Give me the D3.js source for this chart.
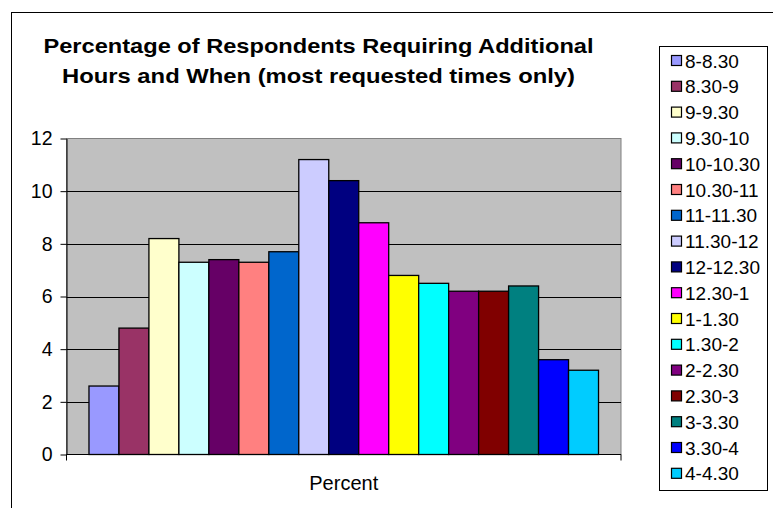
<!DOCTYPE html>
<html>
<head>
<meta charset="utf-8">
<script src="https://cdn.jsdelivr.net/npm/d3@7"></script>
<style>
  html, body { margin: 0; padding: 0; background: #fff; }
  svg { display: block; font-family: "Liberation Sans", Arial, sans-serif; }
</style>
</head>
<body>
<svg id="chart" width="773" height="508"></svg>
<script>
// Time slots (series) and the share of respondents asking for each
const slots = ["8-8.30", "8.30-9", "9-9.30", "9.30-10", "10-10.30", "10.30-11",
  "11-11.30", "11.30-12", "12-12.30", "12.30-1", "1-1.30", "1.30-2",
  "2-2.30", "2.30-3", "3-3.30", "3.30-4", "4-4.30"];
const percents = [2.6, 4.8, 8.2, 7.3, 7.4, 7.3, 7.7, 11.2, 10.4, 8.8, 6.8, 6.5,
  6.2, 6.2, 6.4, 3.6, 3.2];
const slotColors = ["#9999FF", "#993366", "#FFFFCC", "#CCFFFF", "#660066", "#FF8080",
  "#0066CC", "#CCCCFF", "#000080", "#FF00FF", "#FFFF00", "#00FFFF",
  "#800080", "#800000", "#008080", "#0000FF", "#00CCFF"];
const categories = ["Percent"];
const yTicks = [0, 2, 4, 6, 8, 10, 12];
const titleLines = ["Percentage of Respondents Requiring Additional",
  "Hours and When (most requested times only)"];
const titleWidths = [550, 513];

const svg = d3.select("#chart");

// outer chart frame
svg.append("rect")
  .attr("x", 11.5).attr("y", 12.5)
  .attr("width", 900).attr("height", 600)
  .attr("fill", "#fff").attr("stroke", "#000").attr("stroke-width", 1);

const plot = { left: 66.5, right: 621, top: 138.5, bottom: 454.5 };

const y = d3.scaleLinear().domain([0, 12]).range([plot.bottom, plot.top]);
const xCat = d3.scaleBand().domain(categories).range([plot.left, plot.right]);
const xSlot = d3.scaleBand().domain(slots)
  .range([0, xCat.bandwidth()]).paddingInner(0).paddingOuter(0.75);

// plot area
svg.append("rect")
  .attr("x", plot.left).attr("y", plot.top)
  .attr("width", plot.right - plot.left).attr("height", plot.bottom - plot.top)
  .attr("fill", "#C0C0C0").attr("stroke", "#808080").attr("stroke-width", 1);

// gridlines
svg.append("g").selectAll("line")
  .data(yTicks.filter(t => t > 0 && t < 12))
  .join("line")
  .attr("x1", plot.left).attr("x2", plot.right)
  .attr("y1", d => Math.round(y(d)) + 0.5).attr("y2", d => Math.round(y(d)) + 0.5)
  .attr("stroke", "#000").attr("stroke-width", 1);

// bars
svg.append("g").selectAll("rect")
  .data(slots.map((s, i) => ({ slot: s, value: percents[i], color: slotColors[i] })))
  .join("rect")
  .attr("x", d => xCat("Percent") + xSlot(d.slot))
  .attr("y", d => y(d.value))
  .attr("width", xSlot.bandwidth())
  .attr("height", d => y(0) - y(d.value))
  .attr("fill", d => d.color)
  .attr("stroke", "#000").attr("stroke-width", 1.3);

// y axis
const yAxis = svg.append("g")
  .attr("transform", `translate(${plot.left},0)`)
  .call(d3.axisLeft(y).tickValues(yTicks).tickSize(6).tickPadding(8).tickSizeOuter(0));
yAxis.select(".domain").attr("stroke", "#000");
yAxis.selectAll(".tick line").attr("stroke", "#000");
yAxis.selectAll("text").attr("font-size", 19.5).attr("fill", "#000")
  .attr("font-family", "'Liberation Sans', Arial, sans-serif");

// x axis with ticks at the category edges
const xAxis = svg.append("g")
  .attr("transform", `translate(0,${plot.bottom})`);
xAxis.append("line")
  .attr("x1", plot.left).attr("x2", plot.right)
  .attr("stroke", "#000");
xAxis.selectAll("line.edge")
  .data([plot.left, plot.right])
  .join("line").attr("class", "edge")
  .attr("x1", d => d).attr("x2", d => d)
  .attr("y1", 0).attr("y2", 6)
  .attr("stroke", "#000");
xAxis.selectAll("text")
  .data(categories)
  .join("text")
  .attr("x", d => xCat(d) + xCat.bandwidth() / 2)
  .attr("y", 35)
  .attr("text-anchor", "middle")
  .attr("font-size", 20)
  .text(d => d);

// title, two centred lines
svg.append("g")
  .attr("font-weight", "bold")
  .attr("font-size", 21)
  .selectAll("text")
  .data(titleLines)
  .join("text")
  .attr("text-anchor", "middle")
  .attr("x", 318.5)
  .attr("y", (d, i) => 52.5 + i * 30)
  .attr("textLength", (d, i) => titleWidths[i])
  .attr("lengthAdjust", "spacingAndGlyphs")
  .text(d => d);

// legend
const legend = svg.append("g");
legend.append("rect")
  .attr("x", 659.5).attr("y", 46.5)
  .attr("width", 108).attr("height", 444)
  .attr("fill", "#fff").attr("stroke", "#000");
const items = legend.selectAll("g.item")
  .data(slots.map((s, i) => ({ slot: s, color: slotColors[i] })))
  .join("g").attr("class", "item")
  .attr("transform", (d, i) => `translate(0,${61 + i * 25.8})`);
items.append("rect")
  .attr("x", 671.5).attr("y", -5.5)
  .attr("width", 10).attr("height", 10)
  .attr("fill", d => d.color).attr("stroke", "#000").attr("stroke-width", 1.2);
items.append("text")
  .attr("x", 685).attr("y", 6.5)
  .attr("font-size", 19)
  .text(d => d.slot);
</script>
</body>
</html>
